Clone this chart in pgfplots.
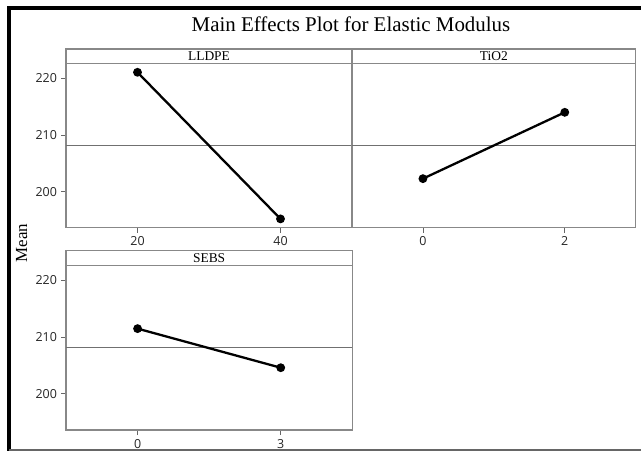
\documentclass[border=0pt]{standalone}
\usepackage{pgfplots}
\pgfplotsset{compat=1.18}
\usepackage{fontspec}
\setmainfont{Liberation Serif}
\newfontfamily\tickfont{Open Sans}
\definecolor{frame}{HTML}{888888}
\definecolor{meanc}{HTML}{707070}
\tikzset{
  strip/.style={draw=frame, line width=1.1pt},
}
\pgfplotsset{
  panel/.style={
    scale only axis,
    clip=false,
    axis line style={draw=frame, line width=1.1pt},
    tick align=outside,
    major tick length=5bp,
    tick style={draw=black!60, line width=0.8pt},
    xtick pos=left, ytick pos=left,
    ymin=193.65, ymax=225.17,
    ytick={200,210,220},
    /pgf/number format/assume math mode=true,
    ticklabel style={font=\tickfont\fontsize{12.5}{14}\selectfont, text=black!85},
    yticklabel style={xshift=-0.5bp},
    xticklabel style={yshift=-0.5bp},
  },
  dataline/.style={black, line width=2.3pt, mark=*, mark size=3.2bp, mark options={fill=black}},
  meanline/.style={meanc, line width=0.9pt, forget plot},
}
\begin{document}
\begin{tikzpicture}
\useasboundingbox (0,0) rectangle (641bp,451bp);
\fill[white] (0,0) rectangle (641bp,451bp);
% outer frame
\draw[black, line width=4bp] (9bp,-5bp) -- (9bp,442.5bp) -- (660bp,442.5bp);
\draw[black!60, line width=2bp] (9bp,1bp) -- (660bp,1bp);
% title
\node[anchor=base] at (351bp,419bp) {\fontsize{21}{25}\selectfont Main Effects Plot for Elastic Modulus};
\node[rotate=90, anchor=base] at (27bp,208bp) {\fontsize{17}{20}\selectfont Mean};

% LLDPE
\begin{axis}[panel, at={(66bp,223.3bp)}, anchor=south west,
  width=286bp, height=178.7bp, xmin=10, xmax=50, xtick={20,40}]
  \addplot[meanline] coordinates {(10,208.1) (50,208.1)};
  \addplot[dataline] coordinates {(20,221.06) (40,195.2)};
  \draw[strip] (rel axis cs:0,0.9175) -- (rel axis cs:1,0.9175);
  \node[font=\fontsize{13.5}{15}\selectfont] at (rel axis cs:0.5,0.9588) {LLDPE};
\end{axis}

% TiO2
\begin{axis}[panel, at={(352bp,223.3bp)}, anchor=south west,
  width=283.7bp, height=178.7bp, xmin=-1, xmax=3, xtick={0,2}, ytick=\empty]
  \addplot[meanline] coordinates {(-1,208.1) (3,208.1)};
  \addplot[dataline] coordinates {(0,202.3) (2,214.0)};
  \draw[strip] (rel axis cs:0,0.9175) -- (rel axis cs:1,0.9175);
  \node[font=\fontsize{13.5}{15}\selectfont] at (rel axis cs:0.5,0.9588) {TiO2};
\end{axis}

% SEBS
\begin{axis}[panel, at={(66bp,21bp)}, anchor=south west,
  width=286.3bp, height=179.3bp, xmin=-1.5, xmax=4.5, xtick={0,3}]
  \addplot[meanline] coordinates {(-1.5,208.1) (4.5,208.1)};
  \addplot[dataline] coordinates {(0,211.47) (3,204.6)};
  \draw[strip] (rel axis cs:0,0.9175) -- (rel axis cs:1,0.9175);
  \node[font=\fontsize{13.5}{15}\selectfont] at (rel axis cs:0.5,0.9588) {SEBS};
\end{axis}
\end{tikzpicture}
\end{document}
